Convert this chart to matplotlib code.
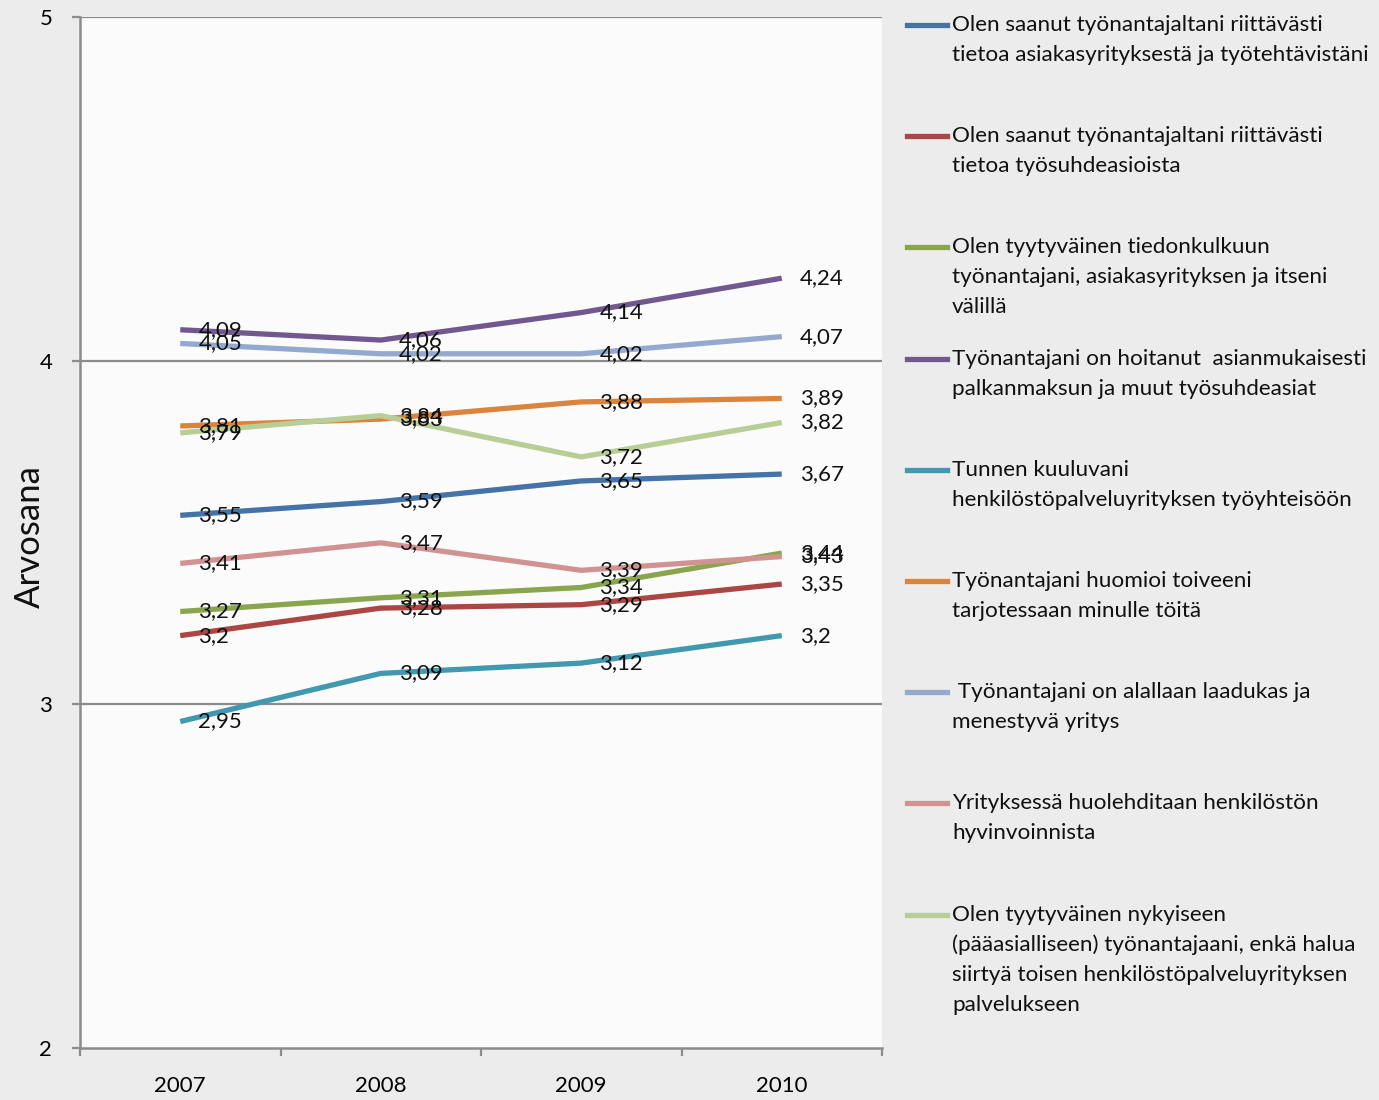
import matplotlib
matplotlib.use("Agg")
import matplotlib.pyplot as plt
from matplotlib.lines import Line2D

plt.rcParams['font.family'] = ['Lato', 'DejaVu Sans']

years = ["2007", "2008", "2009", "2010"]
series_labels = [
    "Olen saanut työnantajaltani riittävästi\ntietoa asiakasyrityksestä ja työtehtävistäni",
    "Olen saanut työnantajaltani riittävästi\ntietoa työsuhdeasioista",
    "Olen tyytyväinen tiedonkulkuun\ntyönantajani, asiakasyrityksen ja itseni\nvälillä",
    "Työnantajani on hoitanut  asianmukaisesti\npalkanmaksun ja muut työsuhdeasiat",
    "Tunnen kuuluvani\nhenkilöstöpalveluyrityksen työyhteisöön",
    "Työnantajani huomioi toiveeni\ntarjotessaan minulle töitä",
    " Työnantajani on alallaan laadukas ja\nmenestyvä yritys",
    "Yrityksessä huolehditaan henkilöstön\nhyvinvoinnista",
    "Olen tyytyväinen nykyiseen\n(pääasialliseen) työnantajaani, enkä halua\nsiirtyä toisen henkilöstöpalveluyrityksen\npalvelukseen",
]
s1 = [3.55, 3.59, 3.65, 3.67]
s2 = [3.20, 3.28, 3.29, 3.35]
s3 = [3.27, 3.31, 3.34, 3.44]
s4 = [4.09, 4.06, 4.14, 4.24]
s5 = [2.95, 3.09, 3.12, 3.20]
s6 = [3.81, 3.83, 3.88, 3.89]
s7 = [4.05, 4.02, 4.02, 4.07]
s8 = [3.41, 3.47, 3.39, 3.43]
s9 = [3.79, 3.84, 3.72, 3.82]
series = [s1, s2, s3, s4, s5, s6, s7, s8, s9]
colors = ["#4572A7", "#AA4643", "#89A54E", "#71588F", "#4198AF",
          "#DB843D", "#93A9CF", "#D19392", "#B9CD96"]

fig = plt.figure(figsize=(13.79, 11.0), dpi=100, facecolor="#ececec")
ax = fig.add_axes([80/1379, 1 - 1048/1100, (882-80)/1379, (1048-17)/1100])
ax.set_facecolor("#fbfbfb")

x = list(range(len(years)))
for vals, c in zip(series, colors):
    ax.plot(x, vals, color=c, lw=3.8, solid_capstyle='butt', zorder=3)

def fmt(v):
    s = ("%.2f" % v).rstrip('0').rstrip('.')
    return s.replace('.', ',')

for vals in series:
    for xi, v in zip(x, vals):
        ax.annotate(fmt(v), (xi, v), xytext=(13, 0), textcoords='offset points',
                    ha='left', va='center', fontsize=16, color='#111111', zorder=4)

ax.set_xlim(-0.5, 3.5)
ax.set_ylim(2, 5)
ax.set_yticks([2, 3, 4, 5])
ax.set_yticklabels(["2", "3", "4", "5"], fontsize=16)
for yv in [3, 4, 5]:
    ax.axhline(yv, color="#8c8c8c", lw=1.6, zorder=1)

ax.set_xticks([-0.5, 0.5, 1.5, 2.5, 3.5])
ax.set_xticklabels([])
ax.set_xticks(x, minor=True)
ax.set_xticklabels(years, minor=True, fontsize=16)
ax.tick_params(axis='x', which='major', length=6, width=1.6, color="#8c8c8c", direction='out')
ax.tick_params(axis='x', which='minor', length=0, pad=20)
ax.tick_params(axis='y', length=6, width=1.6, color="#8c8c8c", direction='out', pad=14)

for sp in ['top', 'right']:
    ax.spines[sp].set_visible(False)
for sp in ['left', 'bottom']:
    ax.spines[sp].set_color("#8c8c8c")
    ax.spines[sp].set_linewidth(1.8)

fig.text(30/1379, 1 - 537/1100, "Arvosana", rotation=90, fontsize=25,
         ha='center', va='center', color='#111111')

# legend drawn as fixed slots
y0 = 25
step = 111.2
for i, (lab, c) in enumerate(zip(series_labels, colors)):
    yy = 1 - (y0 + i * step) / 1100
    fig.add_artist(Line2D([907/1379, 947/1379], [yy, yy], color=c, lw=3.8,
                          transform=fig.transFigure))
    fig.text(952/1379, yy + 10/1100, lab, ha='left', va='top', fontsize=16.2,
             linespacing=1.62, color='#111111', transform=fig.transFigure)

fig.savefig("out.png", dpi=100, facecolor=fig.get_facecolor())
